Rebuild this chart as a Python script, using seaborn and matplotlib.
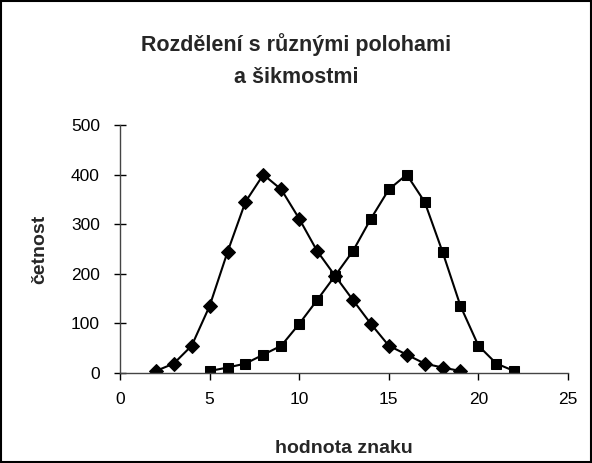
import pandas as pd
import matplotlib.pyplot as plt
import seaborn as sns
from matplotlib.patches import Rectangle

# values
x_left = list(range(2, 20))
y_left = [4, 19, 55, 135, 244, 345, 400, 370, 311, 246, 196, 147, 99, 55, 37, 19, 11, 4]
x_right = list(range(5, 23))
y_right = [4, 11, 19, 37, 55, 99, 147, 196, 246, 311, 370, 400, 345, 244, 135, 55, 19, 4]

sns.set_style("ticks")
plt.rcParams['font.family'] = ['Liberation Sans', 'DejaVu Sans']

fig = plt.figure(figsize=(5.92, 4.63), dpi=100)
ax = fig.add_axes([0.2027, 0.1944, 0.7568, 0.5356])

df_l = pd.DataFrame({'x': x_left, 'y': y_left})
df_r = pd.DataFrame({'x': x_right, 'y': y_right})
sns.lineplot(data=df_l, x='x', y='y', ax=ax, color='black', linewidth=1.5,
             marker='D', markersize=7.5, markeredgecolor='black')
sns.lineplot(data=df_r, x='x', y='y', ax=ax, color='black', linewidth=1.5,
             marker='s', markersize=7.5, markeredgecolor='black')

ax.set_xlim(0, 25)
ax.set_ylim(0, 500)
ax.set_xticks([0, 5, 10, 15, 20, 25])
ax.set_yticks([0, 100, 200, 300, 400, 500])
ax.tick_params(labelsize=12.5, width=1, colors='black')
ax.tick_params(axis='y', direction='inout', length=9, pad=10)
ax.tick_params(axis='x', direction='out', length=5, pad=9)
sns.despine(ax=ax)
for s in ['left', 'bottom']:
    ax.spines[s].set_color('#444444')
    ax.spines[s].set_linewidth(1)

ax.set_xlabel('hodnota znaku', fontsize=14, fontweight='bold')
ax.set_ylabel('četnost', fontsize=14, fontweight='bold')
ax.xaxis.set_label_coords(0.5, -0.27)
ax.yaxis.set_label_coords(-0.16, 0.5)
fig.text(0.5, 0.869, 'Rozdělení s různými polohami\na šikmostmi', ha='center', va='center',
         fontsize=15.5, fontweight='bold', linespacing=1.65)

fig.patches.append(Rectangle((0.002, 0.002), 0.996, 0.996, transform=fig.transFigure,
                             fill=False, edgecolor='black', linewidth=1.5))

fig.savefig('out.png', dpi=100)
